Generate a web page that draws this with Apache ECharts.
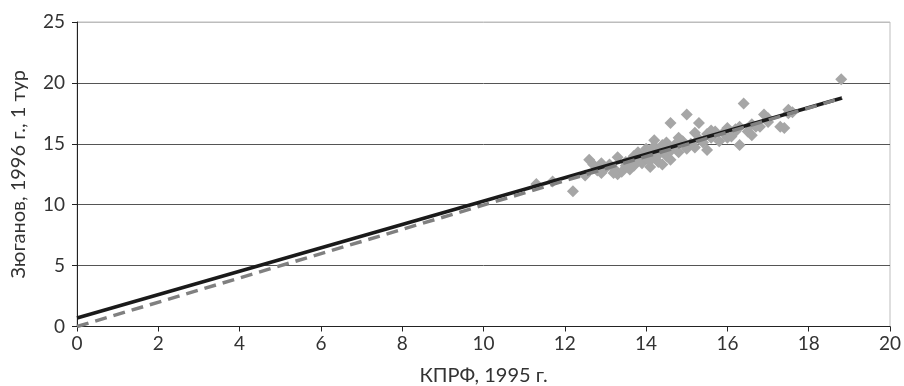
<!DOCTYPE html>
<html>
<head>
<meta charset="utf-8">
<script src="https://cdn.jsdelivr.net/npm/echarts@6/dist/echarts.min.js"></script>
<style>html,body{margin:0;padding:0;background:#fff}#c{width:904px;height:386px}</style>
</head>
<body>
<div id="c"></div>
<script>
// Scatter points: [КПРФ 1995, Зюганов 1996]
var points = [
  [11.3,11.7],[11.7,11.9],[12.2,11.1],[12.5,12.4],[12.6,13.7],[12.7,13.3],[12.8,12.8],[12.9,13.4],
  [12.9,12.6],[13.0,13.0],[13.1,13.3],[13.2,13.0],[13.3,13.9],[13.3,12.5],[13.4,12.7],[13.5,13.5],
  [13.5,13.2],[13.6,13.6],[13.7,14.0],[13.7,13.2],[13.8,13.7],[13.8,14.3],[13.9,13.9],[13.9,13.4],
  [14.0,14.6],[14.0,13.8],[14.0,14.2],[14.1,13.1],[14.1,14.4],[14.2,13.9],[14.2,15.3],[14.2,14.8],
  [14.3,13.5],[14.3,14.1],[14.4,14.6],[14.4,13.3],[14.5,14.0],[14.5,15.1],[14.6,14.4],[14.6,13.7],
  [14.6,16.7],[14.7,14.9],[14.8,14.3],[14.9,15.2],[15.0,14.6],[15.0,17.4],[15.1,15.0],[15.2,14.7],
  [15.3,15.4],[15.3,16.7],[15.4,15.1],[15.5,14.5],[15.5,15.8],[15.6,15.5],[15.7,16.0],[15.8,15.2],
  [15.9,15.9],[16.0,16.3],[16.0,15.5],[16.1,15.6],[16.2,16.0],[16.2,16.2],[16.3,14.9],[16.3,16.4],
  [16.4,18.3],[16.5,16.0],[16.6,15.7],[16.6,16.6],[16.7,16.4],[16.8,16.4],[16.9,17.4],[17.0,16.8],
  [17.0,17.1],[17.3,16.4],[17.4,16.3],[17.5,17.5],[17.5,17.8],[17.6,17.6],[18.8,20.3],
  [13.6,12.9],[14.1,13.6],[14.8,15.5],[15.2,15.9],[15.6,16.1],[13.2,12.6],[14.4,14.9]
];
// Regression line (solid) and y = x style line (dashed) endpoints
var solidLine = [[0,0.7],[18.82,18.76]];
var dashedLine = [[0,0],[18.82,18.76]];
var xTicks = [0,2,4,6,8,10,12,14,16,18,20];
var yTicks = [0,5,10,15,20,25];

var font = 'Lato, "Noto Sans", sans-serif';
var chart = echarts.init(document.getElementById('c'));
chart.setOption({
  animation: false,
  backgroundColor: '#fff',
  grid: {left: 77, right: 14, top: 22, bottom: 59.5, containLabel: false, outerBoundsMode: 'none',
         show: true, borderColor: '#bdbdbd', borderWidth: 1},
  xAxis: {
    type: 'value', min: xTicks[0], max: xTicks[xTicks.length-1], interval: 2,
    name: 'КПРФ, 1995 г.', nameLocation: 'middle', nameGap: 39,
    nameTextStyle: {fontFamily: font, fontSize: 20, color: '#333'},
    axisLine: {show: true, lineStyle: {color: '#222', width: 1}},
    axisTick: {show: true, inside: false, length: 5, lineStyle: {color: '#222'}},
    axisLabel: {fontFamily: font, fontSize: 19, color: '#333', margin: 8},
    splitLine: {show: false}
  },
  yAxis: {
    type: 'value', min: yTicks[0], max: yTicks[yTicks.length-1], interval: 5,
    name: 'Зюганов, 1996 г., 1 тур', nameLocation: 'middle', nameGap: 48,
    nameTextStyle: {fontFamily: font, fontSize: 20, color: '#333'},
    axisLine: {show: true, lineStyle: {color: '#222', width: 1}},
    axisTick: {show: true, inside: false, length: 5, lineStyle: {color: '#222'}},
    axisLabel: {fontFamily: font, fontSize: 19, color: '#333', margin: 12},
    splitLine: {show: true, lineStyle: {color: ['#555','#555','#555','#555','#555','#bdbdbd'], width: 1}}
  },
  series: [
    {type: 'scatter', data: points, symbol: 'diamond', symbolSize: 12,
     itemStyle: {color: '#a6a6a6', opacity: 1}, z: 2},
    {type: 'line', data: solidLine, symbol: 'none',
     lineStyle: {color: '#1a1a1a', width: 3.5}, z: 3},
    {type: 'line', data: dashedLine, symbol: 'none',
     lineStyle: {color: '#808080', width: 3.5, type: [12, 7]}, z: 4}
  ]
});
</script>
</body>
</html>
